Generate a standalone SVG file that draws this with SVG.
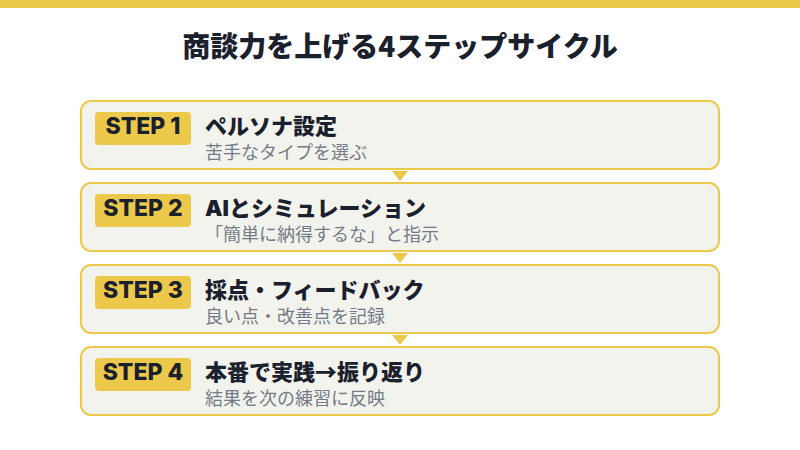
<svg xmlns="http://www.w3.org/2000/svg" width="800" height="450" viewBox="0 0 800 450">
  <style>
    .box { fill: #f3f3ee; stroke: #ecc94b; stroke-width: 2; }
    .badge { fill: #ecc94b; }
    .step { font-family: Inter, "Liberation Sans", "Noto Sans CJK JP", sans-serif; font-weight: 800; font-size: 23px; fill: #1a202c; text-anchor: middle; }
    .ttl { font-family: Inter, "Noto Sans CJK JP", sans-serif; font-weight: 900; font-size: 22px; fill: #1a202c; }
    .cjk { font-family: "Noto Sans CJK JP", sans-serif; }
    .sub { font-family: "Noto Sans CJK JP", sans-serif; font-size: 18px; fill: #737b87; }
    .arrow { fill: #ecc94b; }
  </style>
  <rect x="0" y="0" width="800" height="450" fill="#ffffff"/>
  <rect x="0" y="0" width="800" height="8" fill="#ecc94b"/>
  <text x="400" y="57" text-anchor="middle" font-family="'Noto Sans CJK JP', sans-serif" font-weight="900" font-size="28" fill="#1a202c">商談力を上げる4ステップサイクル</text>

  <g id="connectors">
    <polygon class="arrow" points="392,171 408,171 400,181"/>
    <polygon class="arrow" points="392,253 408,253 400,263"/>
    <polygon class="arrow" points="392,335 408,335 400,345"/>
  </g>

  <g id="step1">
    <rect class="box" x="81" y="101" width="638" height="68" rx="10"/>
    <rect class="badge" x="95" y="112" width="96" height="33" rx="4"/>
    <text class="step" x="143" y="134">STEP 1</text>
    <text class="ttl" x="205" y="134">ペルソナ設定</text>
    <text class="sub" x="205" y="159">苦手なタイプを選ぶ</text>
  </g>
  <g id="step2">
    <rect class="box" x="81" y="183" width="638" height="68" rx="10"/>
    <rect class="badge" x="95" y="194" width="96" height="33" rx="4"/>
    <text class="step" x="143" y="216">STEP 2</text>
    <text class="ttl" x="205" y="216">AIとシミュレーション</text>
    <text class="sub" x="205" y="241">「簡単に納得するな」と指示</text>
  </g>
  <g id="step3">
    <rect class="box" x="81" y="265" width="638" height="68" rx="10"/>
    <rect class="badge" x="95" y="276" width="96" height="33" rx="4"/>
    <text class="step" x="143" y="298">STEP 3</text>
    <text class="ttl" x="205" y="298">採点・フィードバック</text>
    <text class="sub" x="205" y="323">良い点・改善点を記録</text>
  </g>
  <g id="step4">
    <rect class="box" x="81" y="347" width="638" height="68" rx="10"/>
    <rect class="badge" x="95" y="358" width="96" height="33" rx="4"/>
    <text class="step" x="143" y="380">STEP 4</text>
    <text class="ttl cjk" x="205" y="380">本番で実践→振り返り</text>
    <text class="sub" x="205" y="405">結果を次の練習に反映</text>
  </g>
</svg>
